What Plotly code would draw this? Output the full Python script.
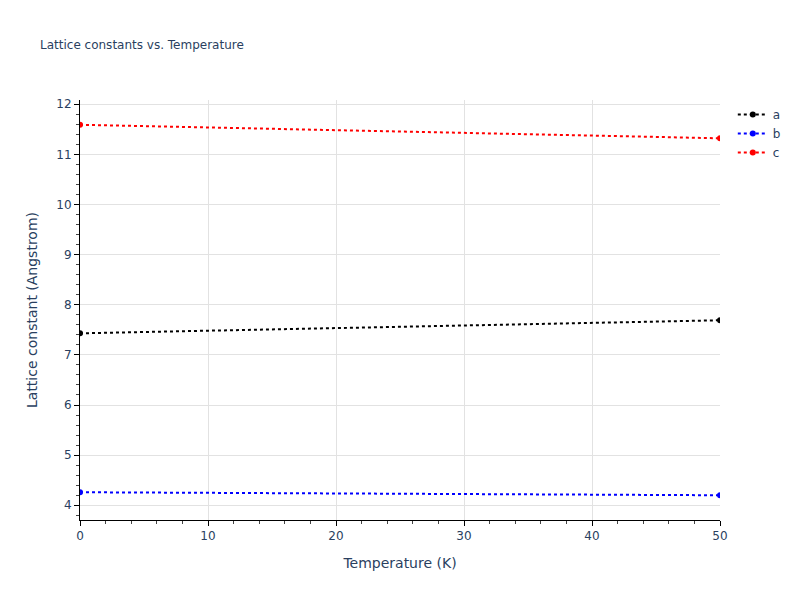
import plotly.graph_objects as go

temperature = [0, 50]
a_vals = [7.43, 7.69]
b_vals = [4.26, 4.20]
c_vals = [11.59, 11.32]

series = [("a", a_vals, "black"), ("b", b_vals, "blue"), ("c", c_vals, "red")]

fig = go.Figure()
for name, vals, color in series:
    fig.add_trace(go.Scatter(
        x=temperature,
        y=vals,
        name=name,
        mode='lines+markers',
        line=dict(color=color, dash='dot', width=2),
        marker=dict(color=color, size=6)
    ))

axis_style = dict(
    showline=True,
    linecolor='black',
    linewidth=1,
    ticks='outside',
    ticklen=5,
    tickcolor='black',
    showgrid=True,
    gridcolor='#e2e2e2',
    zeroline=False,
    minor=dict(ticks='outside', ticklen=3, tickcolor='#444', nticks=5, showgrid=False),
)

# page has an 8px body margin, so the figure is a bit smaller than the window
fig.update_layout(
    width=792,
    height=592,
    margin=dict(l=72, r=80, t=92, b=80),
    title=dict(text='Lattice constants vs. Temperature', font=dict(size=12),
               x=32 / 792, y=1 - 37 / 592, yanchor='middle'),
    template='plotly_white',
    font=dict(family='Verdana, DejaVu Sans, sans-serif'),
    xaxis_title='Temperature (K)',
    yaxis_title='Lattice constant (Angstrom)',
)
fig.update_xaxes(**axis_style, range=[0, 50])
fig.update_yaxes(**axis_style)

fig.write_html("out.html")
